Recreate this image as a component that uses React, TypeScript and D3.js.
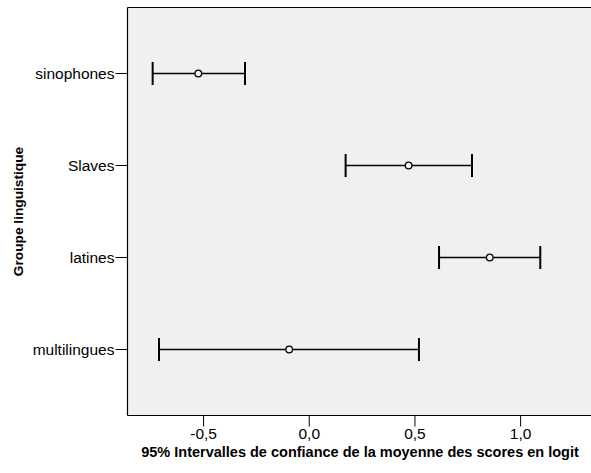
import React from "react";
import * as d3 from "d3";

const groups = ["sinophones", "Slaves", "latines", "multilingues"];
const lower = [-0.741, 0.172, 0.614, -0.711];
const means = [-0.525, 0.47, 0.854, -0.095];
const upper = [-0.304, 0.77, 1.093, 0.519];
const xTicks = [-0.5, 0, 0.5, 1.0];
const xTitle = "95% Intervalles de confiance de la moyenne des scores en logit";
const yTitle = "Groupe linguistique";

const W = 591;
const H = 473;
const left = 127.5;
const right = 591;
const top = 7.5;
const bottom = 415.5;

export default function App() {
  const x = d3.scaleLinear().domain([-0.86, 1.333]).range([left, right]);
  const y = d3.scalePoint<string>().domain(groups).range([top, bottom]).padding(0.717);
  const fmt = (v: number) => d3.format(".1f")(v).replace(".", ",").replace("−", "-");
  const font = "Arial, 'Liberation Sans', sans-serif";
  return (
    <svg width={W} height={H} style={{ position: "absolute", left: 0, top: 0 }} fontFamily={font}>
      <rect x={left} y={top} width={right - left} height={bottom - top} fill="#f0f0f0" />
      <line x1={left} x2={right} y1={top} y2={top} stroke="#000" strokeWidth={1.2} />
      <line x1={left} x2={left} y1={top} y2={bottom} stroke="#000" strokeWidth={1.2} />
      <line x1={left} x2={right} y1={bottom} y2={bottom} stroke="#000" strokeWidth={1.2} />
      {xTicks.map((t) => (
        <g key={t}>
          <line x1={x(t)} x2={x(t)} y1={bottom} y2={bottom + 11} stroke="#000" strokeWidth={1} />
          <text x={x(t)} y={bottom + 23} textAnchor="middle" fontSize={15.5} fill="#000">
            {fmt(t)}
          </text>
        </g>
      ))}
      {groups.map((g) => (
        <g key={g}>
          <line x1={left - 12} x2={left} y1={y(g)!} y2={y(g)!} stroke="#000" strokeWidth={1} />
          <text x={left - 13} y={y(g)!} dy="0.35em" textAnchor="end" fontSize={15.5} fill="#000">
            {g}
          </text>
        </g>
      ))}
      {groups.map((g, i) => {
        const cy = y(g)!;
        return (
          <g key={"bar" + g}>
            <line x1={x(lower[i])} x2={x(upper[i])} y1={cy} y2={cy} stroke="#000" strokeWidth={1.5} />
            <line x1={x(lower[i])} x2={x(lower[i])} y1={cy - 11.5} y2={cy + 11.5} stroke="#000" strokeWidth={2} />
            <line x1={x(upper[i])} x2={x(upper[i])} y1={cy - 11.5} y2={cy + 11.5} stroke="#000" strokeWidth={2} />
            <circle cx={x(means[i])} cy={cy} r={3.3} fill="#f0f0f0" stroke="#000" strokeWidth={1.3} />
          </g>
        );
      })}
      <text x={360} y={457} textAnchor="middle" fontSize={14.5} fontWeight="bold" fill="#000">
        {xTitle}
      </text>
      <text
        transform={`translate(22.5, ${(top + bottom) / 2}) rotate(-90)`}
        textAnchor="middle"
        fontSize={13.7}
        fontWeight="bold"
        fill="#000"
      >
        {yTitle}
      </text>
    </svg>
  );
}
